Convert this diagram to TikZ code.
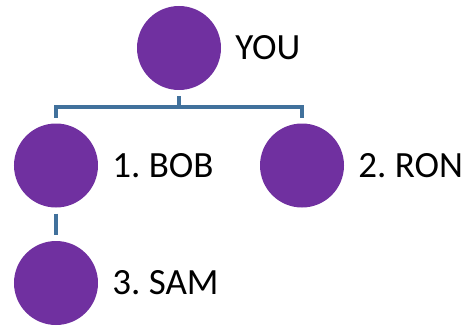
\documentclass[tikz,border=0pt]{standalone}
\usepackage{fontspec}
\setmainfont{Carlito}
\frenchspacing
\definecolor{nodepurple}{HTML}{7030A0}
\definecolor{linkblue}{HTML}{41719C}

\begin{document}
\begin{tikzpicture}[x=1pt,y=1pt,node distance=117.5pt,
		person/.style={circle,fill=nodepurple,minimum size=84pt,inner sep=0pt},
		tag/.style={label={[inner sep=0pt,xshift=14pt,font=\fontsize{37}{40}\selectfont]right:#1}},
		link/.style={draw=linkblue,line width=4pt}]
	\useasboundingbox (-179,48) rectangle (294,-278);

	\node[person, tag={YOU}] (you) {};
	\node[person, tag={1. BOB}] (bob) [below of=you, xshift=-123pt] {};
	\node[person, tag={2. RON}] (ron) [below of=you, xshift=123pt] {};
	\node[person, tag={3. SAM}] (sam) [below of=bob] {};

	% org chart links
	\draw[link, shorten <=6pt, shorten >=5pt] (you.south) -- ++(0,-17) -| (bob.north);
	\draw[link, shorten <=6pt, shorten >=5pt] (you.south) -- ++(0,-17) -| (ron.north);
	\draw[link, shorten <=6pt, shorten >=6pt] (bob.south) -- (sam.north);
\end{tikzpicture}
\end{document}
